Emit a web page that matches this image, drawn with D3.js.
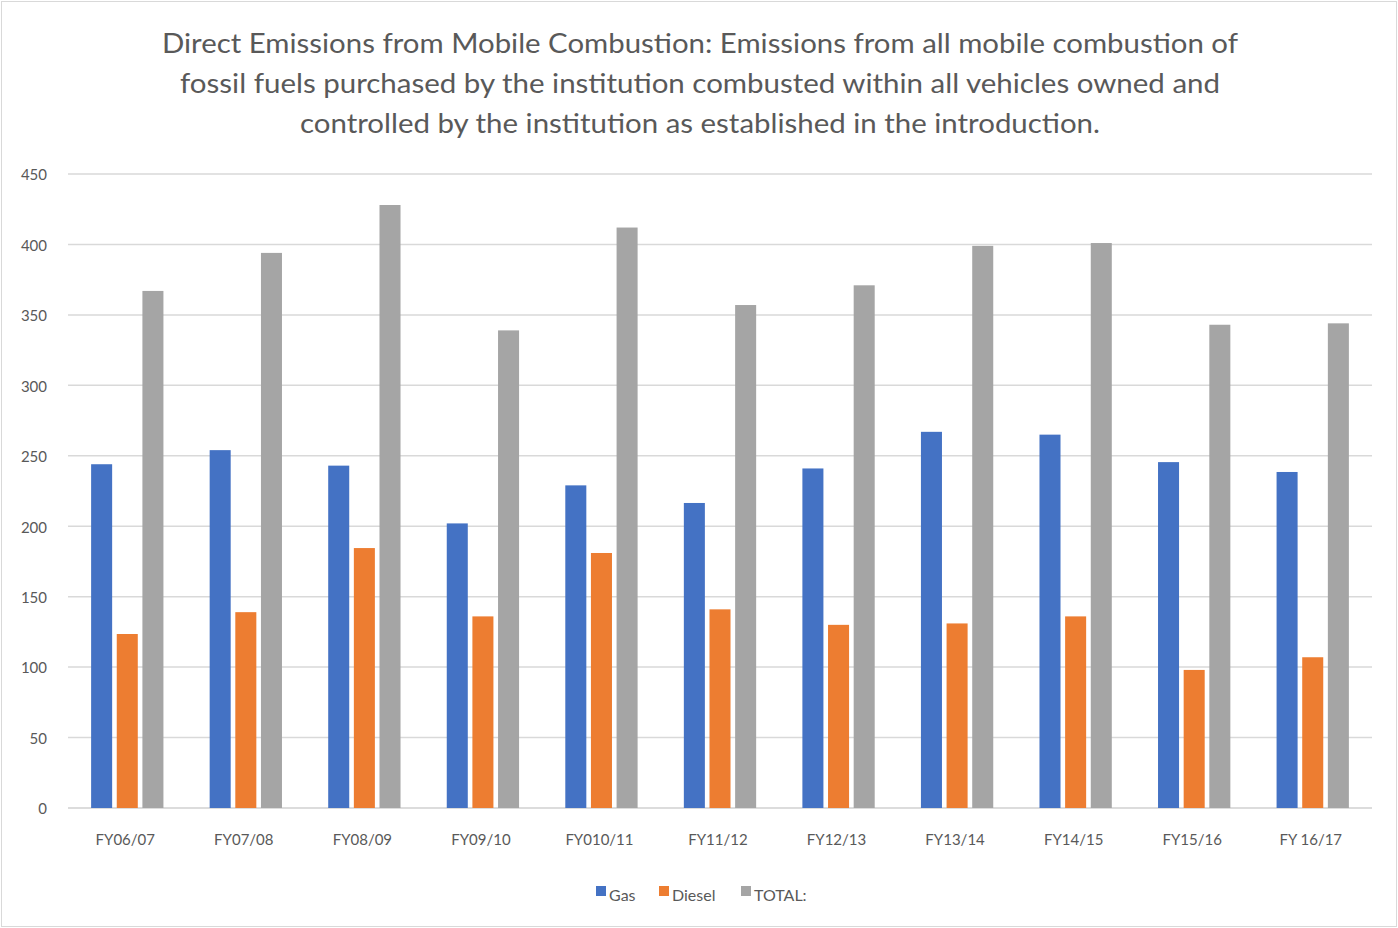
<!DOCTYPE html>
<html><head><meta charset="utf-8">
<script src="https://cdn.jsdelivr.net/npm/d3@7"></script>
<style>body{margin:0;background:#fff;}svg{display:block;font-family:Lato,"Open Sans",sans-serif;}</style>
</head><body>
<script>
const categories=["FY06/07","FY07/08","FY08/09","FY09/10","FY010/11","FY11/12","FY12/13","FY13/14","FY14/15","FY15/16","FY 16/17"];
const gas=[244,254,243,202,229,216.5,241,267,265,245.5,238.5];
const diesel=[123.5,139,184.5,136,181,141,130,131,136,98,107];
const total=[367,394,428,339,412,357,371,399,401,343,344];
const seriesNames=["Gas","Diesel","TOTAL:"];
const colors=["#4472C4","#ED7D31","#A5A5A5"];
const yTicks=[0,50,100,150,200,250,300,350,400,450];
const title=["Direct Emissions  from Mobile Combustion:  Emissions from all mobile  combustion  of","fossil  fuels purchased by the institution combusted  within all vehicles owned and","controlled by the institution  as established  in the introduction."];
const titleWidths=[1076,1040,800];

const W=1398,H=928;
const svg=d3.select("body").append("svg").attr("width",W).attr("height",H);
svg.append("rect").attr("x",1.5).attr("y",1.5).attr("width",W-3).attr("height",H-3).attr("fill","#fff").attr("stroke","#d9d9d9");

const m={l:68,r:1372,t:174,b:808};
const y=d3.scaleLinear().domain([0,450]).range([m.b,m.t]);
const x0=d3.scaleBand().domain(categories).range([m.l,m.r]).paddingInner(0.39).paddingOuter(0.195);
const x1=d3.scaleBand().domain(seriesNames).range([0,x0.bandwidth()]).paddingInner(0.18);

// title
svg.append("g").selectAll("text").data(title).join("text")
 .attr("x",700).attr("y",(d,i)=>53+i*40).attr("text-anchor","middle")
 .attr("font-size",27).attr("fill","#595959")
 .attr("textLength",(d,i)=>titleWidths[i]).attr("lengthAdjust","spacingAndGlyphs").text(d=>d);

// gridlines
svg.append("g").selectAll("line").data(yTicks).join("line")
 .attr("x1",m.l).attr("x2",m.r).attr("y1",d=>y(d)).attr("y2",d=>y(d))
 .attr("stroke",d=>d===0?"#d0d0d0":"#d9d9d9").attr("stroke-width",1.5);

// y axis labels
const ya=svg.append("g").attr("transform",`translate(47,1)`).call(d3.axisLeft(y).tickValues(yTicks).tickSize(0).tickPadding(0));
ya.select(".domain").remove();
ya.selectAll("text").attr("font-size",15).attr("fill","#595959").attr("font-family","Lato,sans-serif");

// bars
const data=categories.map((c,i)=>({c,vals:[gas[i],diesel[i],total[i]]}));
const g=svg.append("g").selectAll("g").data(data).join("g").attr("transform",d=>`translate(${x0(d.c)},0)`);
g.selectAll("rect").data(d=>d.vals.map((v,j)=>({v,s:seriesNames[j],j}))).join("rect")
 .attr("x",d=>x1(d.s)).attr("width",x1.bandwidth())
 .attr("y",d=>y(d.v)).attr("height",d=>y(0)-y(d.v)).attr("fill",d=>colors[d.j]);

// x axis labels
const xa=svg.append("g").attr("transform",`translate(-2,${m.b+26})`).call(d3.axisBottom(x0).tickSize(0).tickPadding(0));
xa.select(".domain").remove();
xa.selectAll("text").attr("font-size",15).attr("fill","#595959").attr("font-family","Lato,sans-serif").attr("dy","0.71em");

// legend
const legX=[596,659,741];
const lg=svg.append("g").selectAll("g").data(seriesNames).join("g").attr("transform",(d,i)=>`translate(${legX[i]},886)`);
lg.append("rect").attr("width",10).attr("height",10).attr("fill",(d,i)=>colors[i]);
lg.append("text").attr("x",13).attr("y",15).attr("font-size",16).attr("fill","#595959").text(d=>d);
</script>
</body></html>
